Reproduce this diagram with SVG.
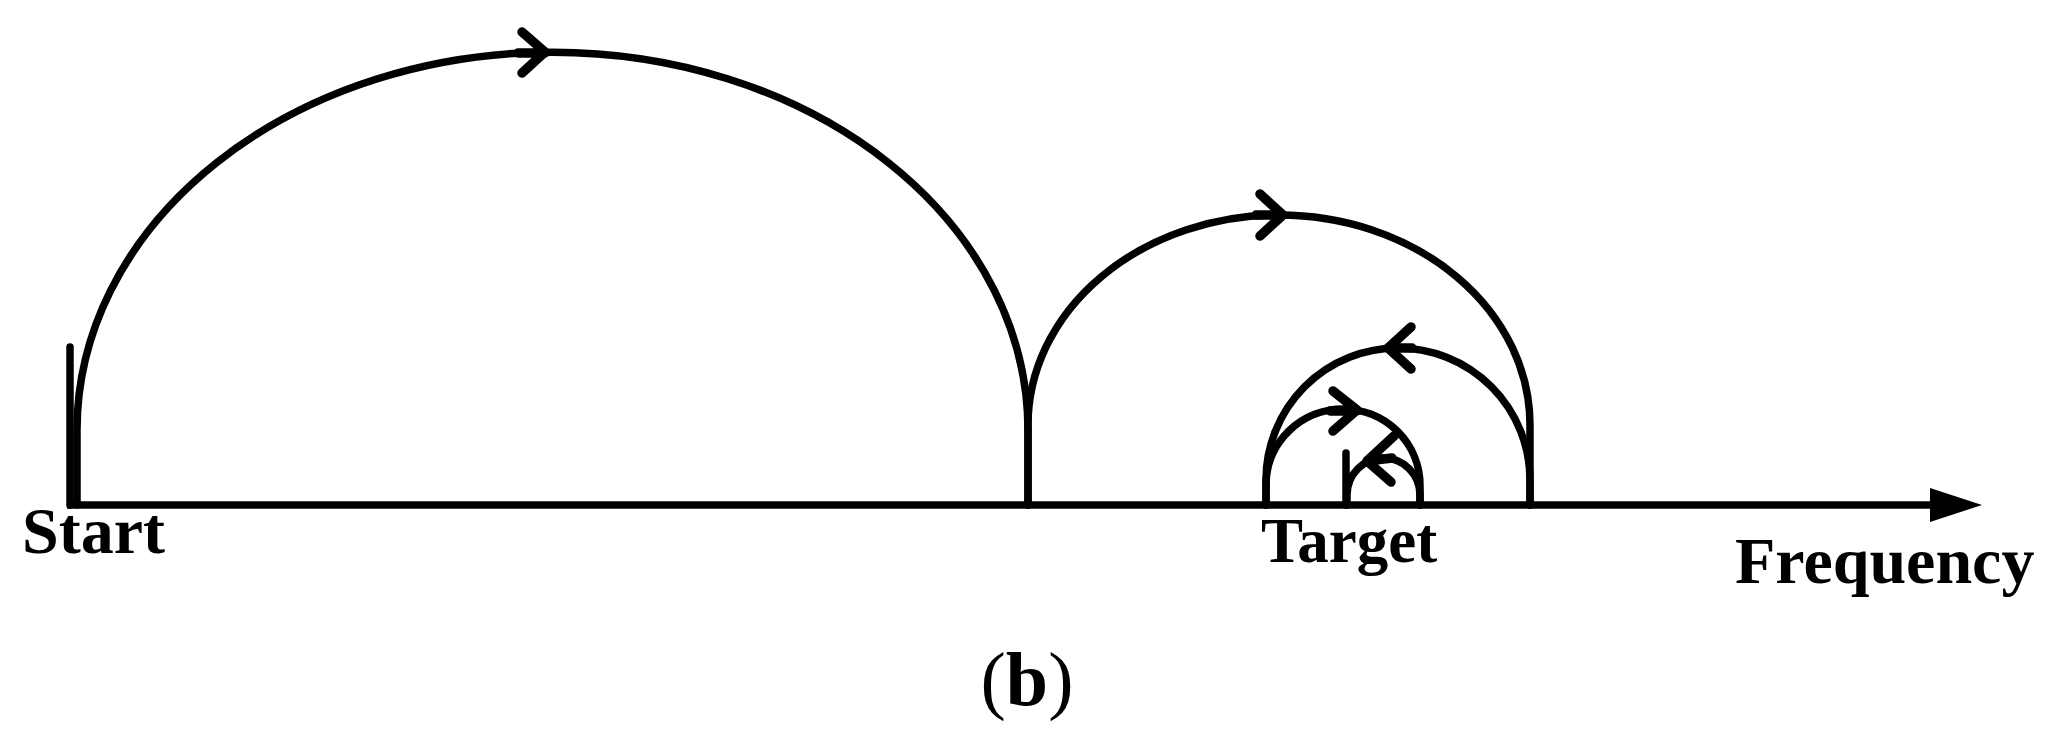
<svg xmlns="http://www.w3.org/2000/svg" width="2064" height="752" viewBox="0 0 2064 752">
<style>
.curve{fill:none;stroke:#000;stroke-width:7.5;stroke-linecap:round;stroke-linejoin:round}
.axis{fill:none;stroke:#000;stroke-width:7.5}
.arr{fill:none;stroke:#000;stroke-width:9.5;stroke-linecap:round;stroke-linejoin:round}
.lbl{font-family:"Liberation Serif","Times New Roman",serif;font-weight:bold;font-size:66px;fill:#000}
</style>
<rect width="2064" height="752" fill="#fff"/>
<g id="axis">
<line class="axis" x1="67" y1="505" x2="1935" y2="505"/>
<polygon points="1930,488 1982,505 1930,522" fill="#000"/>
</g>
<g id="connectors">
<path id="arcA" class="curve" d="M77,505 V430 A475.5,378 0 0 1 1028,430 V505"/>
<path id="arcB" class="curve" d="M1028,505 V425 A251,210 0 0 1 1530,425 V505"/>
<path id="arcC" class="curve" d="M1530,505 V480 A132,132 0 0 0 1266,480 V505"/>
<path id="arcD" class="curve" d="M1266,505 V485 A77,76 0 0 1 1420,485 V505"/>
<path id="arcE" class="curve" d="M1420,505 V495 A36.5,37 0 0 0 1347,495 V505"/>
<path class="arr" d="M522,32 L545,52 L522,73 M518,53 H545"/>
<path class="arr" d="M1260,194 L1283,215 L1260,236 M1256,215 H1283"/>
<path class="arr" d="M1411,327 L1388,348 L1411,369 M1412,348 H1388"/>
<path class="arr" d="M1333,391 L1357,410 L1333,431 M1330,411 H1357"/>
<path class="arr" d="M1394,436 L1367,461 L1391,482 M1367,461 L1392,458"/>
</g>
<g id="start">
<line class="curve" x1="70" y1="347" x2="70" y2="505"/>
<text class="lbl" x="22" y="553">Start</text>
</g>
<g id="target">
<line class="curve" x1="1346" y1="453" x2="1346" y2="505"/>
<text class="lbl" x="1261" y="562" style="font-size:63px">Target</text>
</g>
<g id="frequency">
<text class="lbl" x="1735" y="583">Frequency</text>
</g>
<g id="caption">
<text class="lbl" x="1027" y="705" text-anchor="middle" style="font-size:76px"><tspan font-weight="normal">(</tspan>b<tspan font-weight="normal">)</tspan></text>
</g>
</svg>
